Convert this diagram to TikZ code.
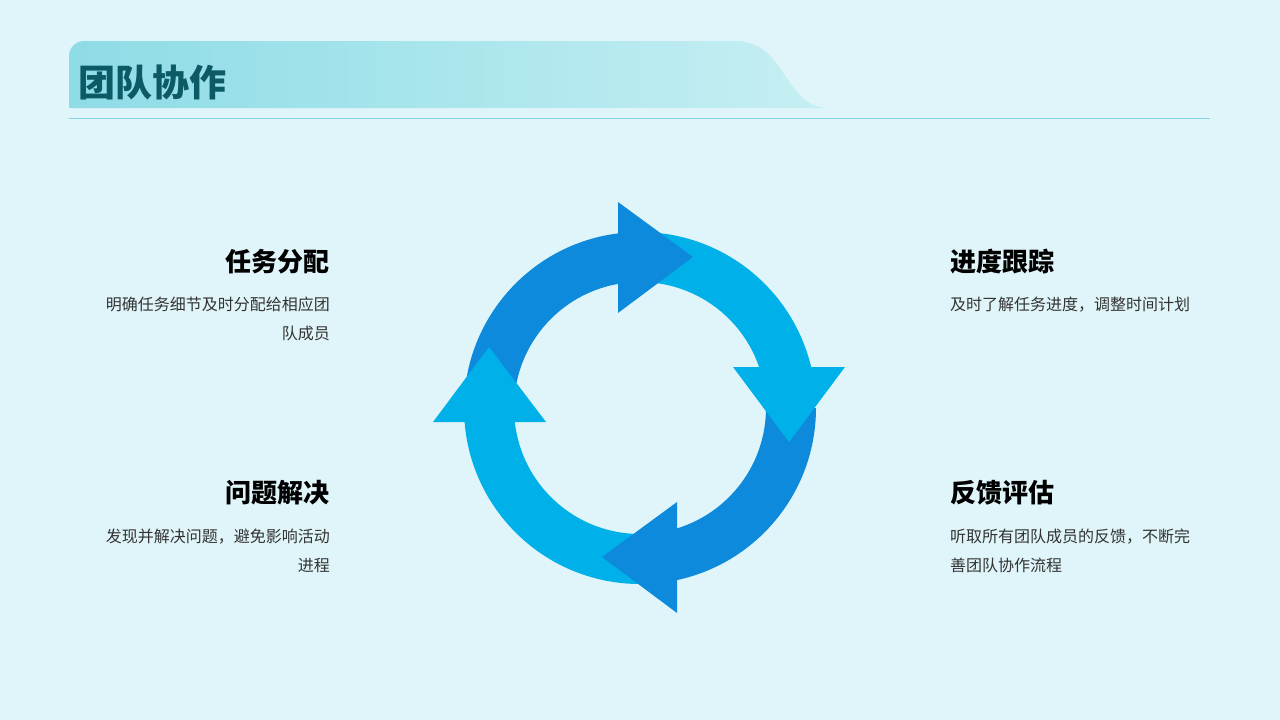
\documentclass[tikz,border=0pt]{standalone}
\usepackage{fontspec}
\setmainfont{Noto Sans CJK SC}
\definecolor{bgcol}{HTML}{E0F5F9}
\definecolor{hdleft}{HTML}{8EDCE6}
\definecolor{hdright}{HTML}{C6EFF3}
\definecolor{titlecol}{HTML}{0B5A66}
\definecolor{rulecol}{HTML}{7FD6E6}
\definecolor{darkarr}{HTML}{0E8ADD}
\definecolor{lightarr}{HTML}{00B1E9}
\definecolor{bodygray}{HTML}{333333}
\begin{document}
\begin{tikzpicture}[x=1pt, y=-1pt,
	headtext/.style={font=\fontsize{26}{30}\selectfont\bfseries, text=black, inner sep=0},
	bodytext/.style={font=\fontsize{16}{29}\selectfont, text=bodygray, inner sep=0}]
	\fill[bgcol] (0,0) rectangle (1280,720);

	% header band
	\shade[left color=hdleft, right color=hdright] (69,108) -- (69,56) arc[start angle=180, end angle=270, radius=15] -- (735,41) .. controls (765,41) and (776,62) .. (790,83) .. controls (803,101) and (812,108) .. (830,108) -- cycle;
	\node[anchor=west, inner sep=0, font=\fontsize{37}{40}\selectfont\bfseries, text=titlecol] (title) at (78,82) {团队协作};
	\draw[rulecol, line width=1pt] (69,118) -- (1210,118);

	% cycle: ring pieces first, heads on top
	\coordinate (c) at (640,408);
	\fill[darkarr] (c) ++(180:176) arc[start angle=180, end angle=262.82, radius=176] -- (618,283.9) arc[start angle=259.94, end angle=180, radius=126] -- cycle;
	\fill[lightarr] (c) ++(270:176) arc[start angle=270, end angle=346.53, radius=176] -- (759.1,367) arc[start angle=341.01, end angle=270, radius=126] -- cycle;
	\fill[darkarr] (c) ++(0:176) arc[start angle=0, end angle=77.86, radius=176] -- (677,528.4) arc[start angle=72.92, end angle=0, radius=126] -- cycle;
	\fill[lightarr] (c) ++(90:176) arc[start angle=90, end angle=175.44, radius=176] -- (514.8,422) arc[start angle=173.62, end angle=90, radius=126] -- cycle;
	\fill[darkarr] (618,202) -- (693,257) -- (618,313) -- cycle;
	\fill[lightarr] (733,367) -- (789,442) -- (845,367) -- cycle;
	\fill[darkarr] (677,502) -- (602,557) -- (677,613) -- cycle;
	\fill[lightarr] (433,422) -- (489,347) -- (546,422) -- cycle;

	% texts
	\node[headtext, anchor=east] (assign) at (330,262) {任务分配};
	\node[bodytext, anchor=north east, align=right] (assigntxt) at (330,297) {明确任务细节及时分配给相应团\\队成员};
	\node[headtext, anchor=west] (track) at (950,262) {进度跟踪};
	\node[bodytext, anchor=north west, align=left] (tracktxt) at (950,297) {及时了解任务进度，调整时间计划};
	\node[headtext, anchor=east] (solve) at (330,493) {问题解决};
	\node[bodytext, anchor=north east, align=right] (solvetxt) at (330,529) {发现并解决问题，避免影响活动\\进程};
	\node[headtext, anchor=west] (review) at (950,493) {反馈评估};
	\node[bodytext, anchor=north west, align=left] (reviewtxt) at (950,529) {听取所有团队成员的反馈，不断完\\善团队协作流程};
\end{tikzpicture}
\end{document}
